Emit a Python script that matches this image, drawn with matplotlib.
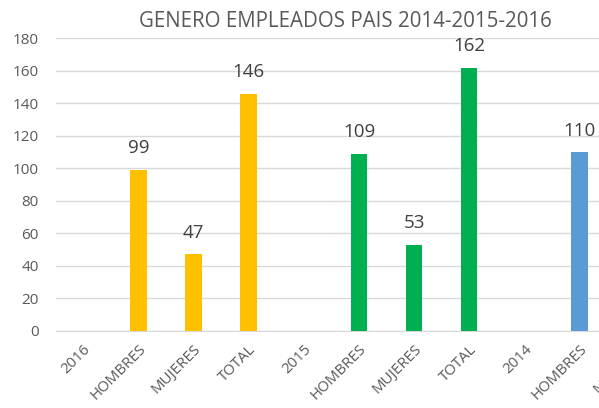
import numpy as np
import matplotlib.pyplot as plt

categorias = ["2016", "HOMBRES", "MUJERES", "TOTAL",
              "2015", "HOMBRES", "MUJERES", "TOTAL",
              "2014", "HOMBRES", "MUJERES"]
valores = [np.nan, 99, 47, 146,
           np.nan, 109, 53, 162,
           np.nan, 110, np.nan]
colores = ["#FFC000"] * 4 + ["#00B050"] * 4 + ["#5B9BD5"] * 3

plt.rcParams['font.family'] = ['Open Sans', 'DejaVu Sans']
gris = "#595959"

fig = plt.figure(figsize=(5.99, 4.08), dpi=100)
# el grafico original esta recortado por la derecha
ax = fig.add_axes([55.6 / 599, 77.3 / 408, 661.8 / 599, 292.4 / 408])

x = np.arange(len(categorias))
ax.bar(x, valores, width=0.3, color=colores, zorder=3)

for xi, v in zip(x, valores):
    if not np.isnan(v):
        ax.annotate(str(int(v)), (xi, v), xytext=(0, 9), textcoords="offset points",
                    ha="center", va="bottom", fontsize=13.5, color="#404040")

ax.set_xlim(-0.5, 11.5)
ax.set_ylim(0, 180)
ax.set_yticks(range(0, 181, 20))
ax.set_xticks(x)
ax.set_xticklabels(categorias, rotation=45, ha="right", va="top", rotation_mode="anchor")
ax.tick_params(axis="both", length=0, colors=gris)
ax.tick_params(axis="y", labelsize=11, pad=12)
ax.tick_params(axis="x", labelsize=10.8, pad=8)
ax.yaxis.grid(True, color="#D9D9D9", linewidth=1, zorder=0)
for s in ["top", "right", "left"]:
    ax.spines[s].set_visible(False)
ax.spines["bottom"].set_color("#D9D9D9")

fig.text(345 / 599, 1 - 21.5 / 408, "GENERO EMPLEADOS PAIS 2014-2015-2016",
         ha="center", va="center", fontsize=14.8, color=gris)

fig.savefig("out.png", dpi=100)
